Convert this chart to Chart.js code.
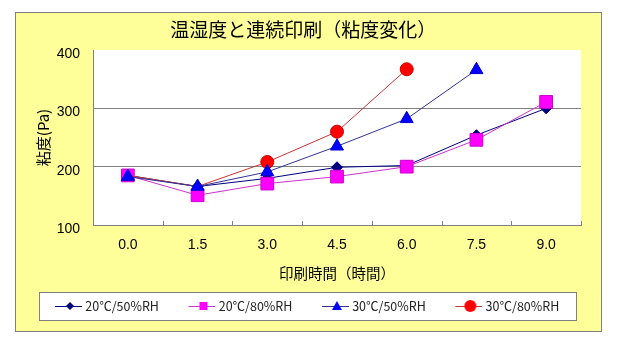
<!DOCTYPE html>
<html>
<head>
<meta charset="utf-8">
<script src="https://cdn.jsdelivr.net/npm/chart.js@4"></script>
<style>
  html, body { margin: 0; padding: 0; background: #fff; }
  #wrap { width: 618px; height: 342px; }
</style>
</head>
<body>
<div id="wrap"><canvas id="chart" width="618" height="342"></canvas></div>
<script>
// data
const times = ['0.0', '1.5', '3.0', '4.5', '6.0', '7.5', '9.0'];
const seriesNames = ['20℃/50%RH', '20℃/80%RH', '30℃/50%RH', '30℃/80%RH'];
const visc20_50 = [185, 166, 180, 199, 202, 254, 300];
const visc20_80 = [185, 151, 171, 183, 200, 246, 311];
const visc30_50 = [183, 166, 191, 235, 282, 366, null];
const visc30_80 = [185, 166, 208, 260, 367, null, null];
const yTicks = [100, 200, 300, 400];

const jp = '"Noto Sans CJK JP", sans-serif';
const num = '"Liberation Sans", Arial, sans-serif';

// little legend pictures: a line with the marker on it, drawn at the right end
// of the canvas so the text follows closely
function legendIcon(lineColor, fill, stroke, shape) {
  const w = 48, h = 14;
  const c = document.createElement('canvas');
  c.width = w; c.height = h;
  const g = c.getContext('2d');
  const x0 = w - 27, cx = w - 12, cy = h / 2;
  g.strokeStyle = lineColor;
  g.lineWidth = 1;
  g.beginPath(); g.moveTo(x0, cy + 0.5); g.lineTo(w, cy + 0.5); g.stroke();
  g.fillStyle = fill;
  g.strokeStyle = stroke;
  g.beginPath();
  if (shape === 'diamond') {
    g.moveTo(cx, cy - 4); g.lineTo(cx + 4, cy); g.lineTo(cx, cy + 4); g.lineTo(cx - 4, cy);
  } else if (shape === 'square') {
    g.rect(cx - 4, cy - 4, 8, 8);
  } else if (shape === 'triangle') {
    g.moveTo(cx, cy - 5); g.lineTo(cx + 5, cy + 4); g.lineTo(cx - 5, cy + 4);
  } else {
    g.arc(cx, cy, 6, 0, Math.PI * 2);
  }
  g.closePath();
  g.fill();
  return c;
}

const icons = [
  legendIcon('#000080', '#000080', '#000080', 'diamond'),
  legendIcon('#cc33cc', '#ff00ff', '#cc00cc', 'square'),
  legendIcon('#333399', '#0000ff', '#0000cc', 'triangle'),
  legendIcon('#cc3333', '#ff0000', '#cc0000', 'circle')
];

const framePlugin = {
  id: 'frame',
  beforeDraw(chart) {
    const {ctx, chartArea} = chart;
    ctx.save();
    ctx.fillStyle = '#ffffff';
    ctx.fillRect(0, 0, chart.width, chart.height);
    ctx.fillStyle = '#ffff99';
    ctx.fillRect(15, 12, 586, 319);
    ctx.strokeStyle = '#808080';
    ctx.lineWidth = 1;
    ctx.strokeRect(15.5, 12.5, 586, 319);
    ctx.fillStyle = '#ffffff';
    ctx.fillRect(chartArea.left, chartArea.top, chartArea.right - chartArea.left, chartArea.bottom - chartArea.top);
    // legend frame
    ctx.fillRect(39, 292, 537, 28);
    ctx.strokeStyle = '#808080';
    ctx.strokeRect(39.5, 292.5, 537, 28);
    ctx.restore();
  },
  beforeDatasetsDraw(chart) {
    // short tick marks pointing up into the plot between categories
    const {ctx, chartArea} = chart;
    const xs = chart.scales.x;
    ctx.save();
    ctx.strokeStyle = '#808080';
    ctx.lineWidth = 1;
    ctx.beginPath();
    for (let i = 1; i <= times.length; i++) {
      const x = Math.round(xs.getPixelForValue(i - 0.5)) + 0.5;
      ctx.moveTo(x, chartArea.bottom);
      ctx.lineTo(x, chartArea.bottom - 4);
    }
    ctx.stroke();
    ctx.restore();
  }
};

new Chart(document.getElementById('chart'), {
  type: 'line',
  data: {
    labels: times,
    datasets: [
      {
        label: seriesNames[0], data: visc20_50, order: 3,
        borderColor: '#000080', borderWidth: 1,
        pointStyle: 'rectRot', pointRadius: 5.5,
        pointBackgroundColor: '#000080', pointBorderColor: '#000080', pointBorderWidth: 1
      },
      {
        label: seriesNames[1], data: visc20_80, order: 2,
        borderColor: '#cc33cc', borderWidth: 1,
        pointStyle: 'rect', pointRadius: 9,
        pointBackgroundColor: '#ff00ff', pointBorderColor: '#cc00cc', pointBorderWidth: 1
      },
      {
        label: seriesNames[2], data: visc30_50, order: 0,
        borderColor: '#333399', borderWidth: 1,
        pointStyle: 'triangle', pointRadius: 7.5,
        pointBackgroundColor: '#0000ff', pointBorderColor: '#0000cc', pointBorderWidth: 1
      },
      {
        label: seriesNames[3], data: visc30_80, order: 1,
        borderColor: '#cc3333', borderWidth: 1,
        pointStyle: 'circle', pointRadius: [0, 0, 6.5, 6.5, 6.5, 0, 0],
        pointBackgroundColor: '#ff0000', pointBorderColor: '#cc0000', pointBorderWidth: 1
      }
    ]
  },
  options: {
    responsive: false,
    animation: false,
    events: [],
    spanGaps: false,
    layout: { padding: { left: 25.5, right: 37, top: 0, bottom: 19.75 } },
    plugins: {
      title: {
        display: true,
        text: '温湿度と連続印刷（粘度変化）',
        color: '#000',
        font: { family: jp, size: 19, weight: 'normal', lineHeight: 1.2 },
        padding: { top: 18.6, bottom: 8.6 }
      },
      legend: {
        position: 'bottom',
        align: 'start',
        labels: {
          usePointStyle: true,
          pointStyleWidth: 42,
          padding: 11.5,
          color: '#222',
          font: { family: jp, size: 12.5 },
          sort: (a, b) => a.datasetIndex - b.datasetIndex,
          generateLabels(chart) {
            return chart.data.datasets.map((ds, i) => ({
              text: ds.label,
              pointStyle: icons[i],
              datasetIndex: i,
              hidden: false,
              lineWidth: 0,
              strokeStyle: 'transparent',
              fillStyle: 'transparent',
              fontColor: '#222'
            }));
          }
        }
      },
      tooltip: { enabled: false }
    },
    scales: {
      x: {
        offset: true,
        grid: { display: true, drawOnChartArea: false, drawTicks: false, offset: true },
        border: { display: true, color: '#808080', width: 1 },
        ticks: { color: '#000', font: { family: num, size: 14 }, padding: 12, maxRotation: 0 },
        title: {
          display: true,
          text: '印刷時間（時間）',
          color: '#000',
          font: { family: jp, size: 14.5, lineHeight: 1.2 },
          padding: { top: 9, bottom: 6.5 }
        },
        afterFit(scale) { scale.height = 63.25; }
      },
      y: {
        min: yTicks[0],
        max: yTicks[yTicks.length - 1],
        afterBuildTicks(scale) { scale.ticks = yTicks.map(v => ({ value: v })); },
        grid: {
          drawTicks: false,
          color: ctx => (ctx.tick && (ctx.tick.value === 200 || ctx.tick.value === 300)) ? '#808080' : 'rgba(0,0,0,0)',
          lineWidth: 1
        },
        border: { display: true, color: '#808080', width: 1 },
        ticks: { color: '#000', font: { family: num, size: 14 }, padding: 13, labelOffset: 4 },
        title: {
          display: true,
          text: '粘度(Pa)',
          color: '#000',
          font: { family: jp, size: 15, lineHeight: 1.2 },
          padding: { top: 8.5, bottom: 0 }
        },
        afterFit(scale) { scale.width = 67.5; }
      }
    }
  },
  plugins: [framePlugin]
});
</script>
</body>
</html>
